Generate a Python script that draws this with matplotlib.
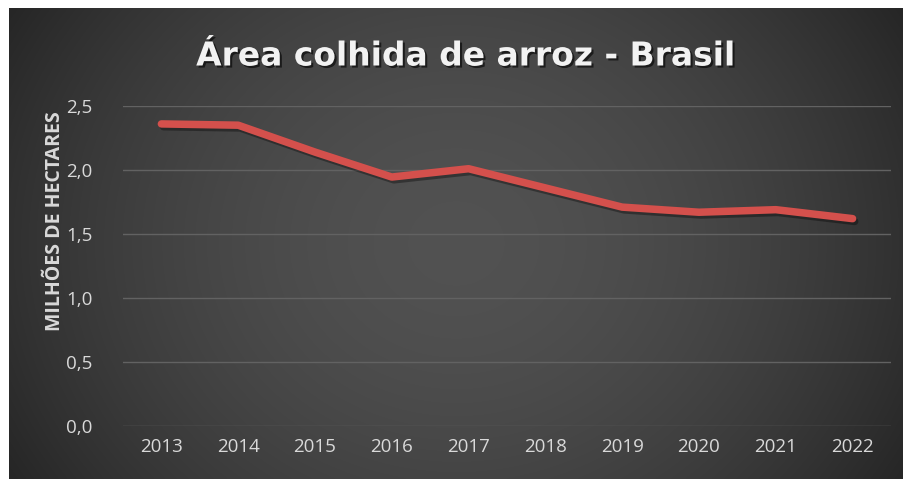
import numpy as np
import matplotlib.pyplot as plt
import matplotlib.patheffects as pe

anos = ['2013', '2014', '2015', '2016', '2017', '2018', '2019', '2020', '2021', '2022']
area_mha = [2.36, 2.35, 2.14, 1.945, 2.01, 1.86, 1.71, 1.67, 1.69, 1.62]
y_ticks = [0.0, 0.5, 1.0, 1.5, 2.0, 2.5]
y_tick_labels = ['0,0', '0,5', '1,0', '1,5', '2,0', '2,5']

W, H = 904, 479
fig = plt.figure(figsize=(W / 100, H / 100), dpi=100)
fig.patch.set_facecolor('white')

# dark radial gradient panel behind the chart
bg = fig.add_axes([9 / W, 0, (W - 9) / W, (H - 8) / H])
bg.set_axis_off()
gx, gy = np.meshgrid(np.linspace(-1, 1, 400), np.linspace(-1, 1, 220))
r = np.sqrt(gx ** 2 + (gy * 0.6) ** 2)
shade = 0.32 - 0.18 * np.clip(r / 1.2, 0, 1) ** 1.8
img = np.dstack([shade, shade, shade])
bg.imshow(img, aspect='auto', extent=[0, 1, 0, 1], interpolation='bilinear')

ax = fig.add_axes([123 / W, (H - 426) / H, 768 / W, 320 / H])
ax.patch.set_alpha(0)
x = np.arange(len(anos))
ax.plot(x, area_mha, color='#D4504C', lw=5.4, solid_capstyle='round',
        solid_joinstyle='round', zorder=3,
        path_effects=[pe.SimpleLineShadow(offset=(1.5, -2), shadow_color='black', alpha=0.35),
                      pe.Normal()])

ax.set_xlim(-0.5, len(anos) - 0.5)
ax.set_ylim(0, 2.5)
ax.set_yticks(y_ticks)
ax.set_yticklabels(y_tick_labels)
ax.set_xticks(x)
ax.set_xticklabels(anos)
ax.grid(axis='y', color='#626262', lw=1)
ax.set_axisbelow(True)
for s in ax.spines.values():
    s.set_visible(False)
ax.tick_params(length=0, colors='#D9D9D9', labelsize=13.5)
ax.tick_params(axis='y', pad=22)
ax.tick_params(axis='x', pad=9)
for lbl in ax.get_xticklabels() + ax.get_yticklabels():
    lbl.set_fontfamily('Open Sans')

fig.text(55 / W, 1 - 221 / H, 'MILHÕES DE HECTARES', rotation=90, ha='center', va='center',
         color='#D9D9D9', fontsize=14, fontweight='bold', family='Open Sans')

fig.text(465 / W, 1 - 56 / H, 'Área colhida de arroz - Brasil', ha='center', va='center',
         color='#F2F2F2', fontsize=23.7, fontweight='bold', family='DejaVu Sans',
         path_effects=[pe.withSimplePatchShadow(offset=(1.5, -1.5), shadow_rgbFace='black', alpha=0.6)])

fig.savefig('out.png', dpi=100, facecolor=fig.get_facecolor())
